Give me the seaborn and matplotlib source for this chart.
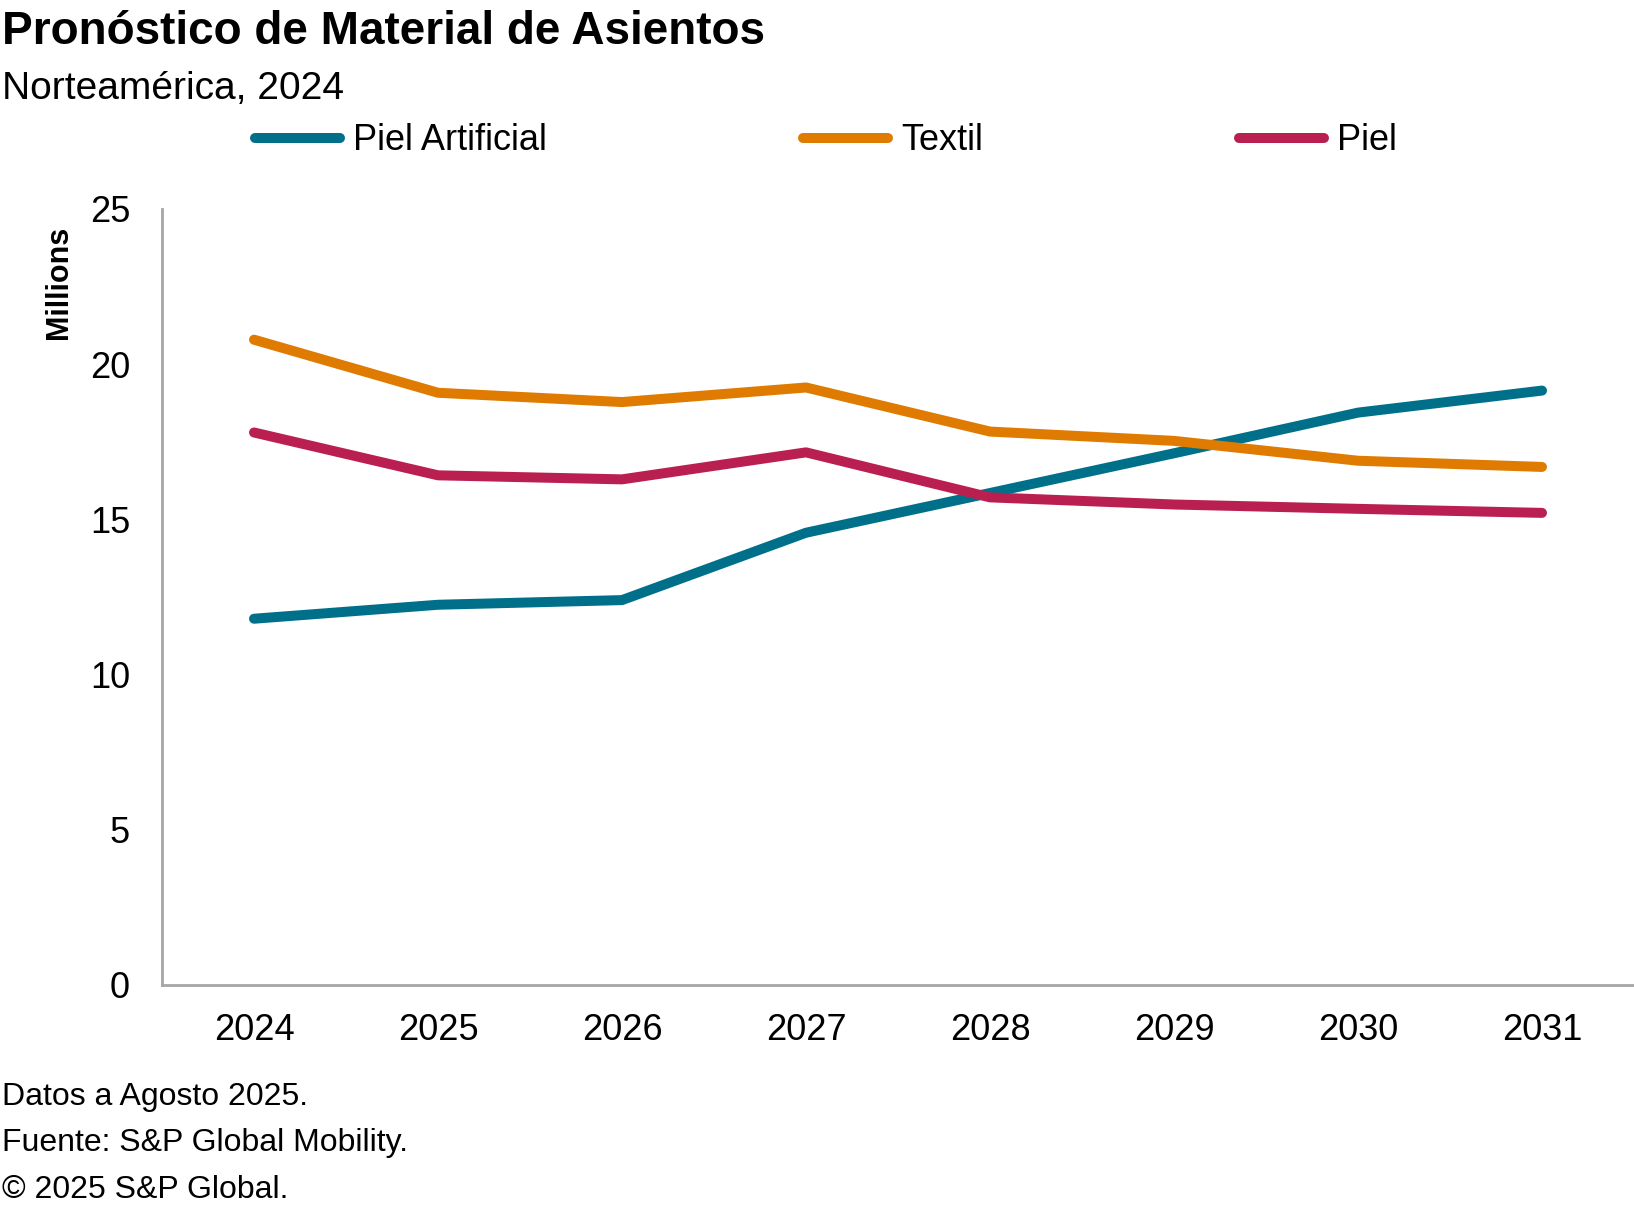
import numpy as np
import pandas as pd
import matplotlib
matplotlib.use("Agg")
import matplotlib.pyplot as plt
import seaborn as sns
from matplotlib.lines import Line2D

# data (millions of units)
years = [2024, 2025, 2026, 2027, 2028, 2029, 2030, 2031]
piel_artificial = [11.8, 12.25, 12.4, 14.57, 15.85, 17.13, 18.44, 19.15]
textil = [20.79, 19.08, 18.78, 19.25, 17.83, 17.53, 16.89, 16.69]
piel = [17.80, 16.42, 16.29, 17.16, 15.71, 15.48, 15.34, 15.21]

series_names = ['Piel Artificial', 'Textil', 'Piel']
series_colors = ['#00708A', '#DE7B00', '#BA1F52']
y_ticks = [0, 5, 10, 15, 20, 25]

title = 'Pronóstico de Material de Asientos'
subtitle = 'Norteamérica, 2024'
footer = ['Datos a Agosto 2025.', 'Fuente: S&P Global Mobility.', '© 2025 S&P Global.']

data = pd.DataFrame({
    'Año': years * 3,
    'Valor': piel_artificial + textil + piel,
    'Material': [n for n in series_names for _ in years],
})

sns.set_theme(style='white')
plt.rcParams['font.family'] = ['Liberation Sans', 'DejaVu Sans']
plt.rcParams['text.color'] = 'black'

W, H = 1634, 1206
fig = plt.figure(figsize=(W / 100, H / 100), dpi=100)
ax = fig.add_axes([162 / W, 1 - 985 / H, 1 - 162 / W, (985 - 209) / H])

sns.lineplot(data=data, x='Año', y='Valor', hue='Material', hue_order=series_names,
             palette=series_colors, linewidth=7.2, ax=ax, legend=False,
             solid_capstyle='round', solid_joinstyle='round')

ax.set_xlim(2023.5, 2031.5)
ax.set_ylim(0, 25)
ax.set_xticks(years)
ax.set_xticklabels([str(y) for y in years])
ax.set_yticks(y_ticks)
ax.tick_params(axis='both', length=0, labelsize=26, colors='black')
ax.tick_params(axis='y', pad=23)
ax.tick_params(axis='x', pad=20)
ax.set_xlabel('')
ax.set_ylabel('')
for s in ['top', 'right']:
    ax.spines[s].set_visible(False)
for s in ['left', 'bottom']:
    ax.spines[s].set_color('#a6a6a6')
    ax.spines[s].set_linewidth(2)
ax.grid(False)

fig.text(59 / W, 1 - 282 / H, 'Millions', rotation=90, ha='center', va='center',
         fontsize=22, fontweight='bold', color='black')

# legend on top
handles = [Line2D([0], [0], color=c, lw=7.2, solid_capstyle='round') for c in series_colors]
leg = fig.legend(handles, series_names, loc='center left', bbox_to_anchor=(255 / W, 1 - 141 / H),
                 ncol=3, frameon=False, fontsize=26, handlelength=2.35, handletextpad=0.36,
                 columnspacing=7.1, borderpad=0, borderaxespad=0)
for t in leg.get_texts():
    t.set_color('black')

fig.text(2 / W, 1 - 44 / H, title, fontsize=33, fontweight='bold', ha='left', va='baseline', color='black')
fig.text(2 / W, 1 - 99 / H, subtitle, fontsize=28, ha='left', va='baseline', color='black')
for i, line in enumerate(footer):
    fig.text(2 / W, 1 - (1105 + 46.5 * i) / H, line, fontsize=23, ha='left', va='baseline', color='black')

fig.savefig('out.png', dpi=100)
